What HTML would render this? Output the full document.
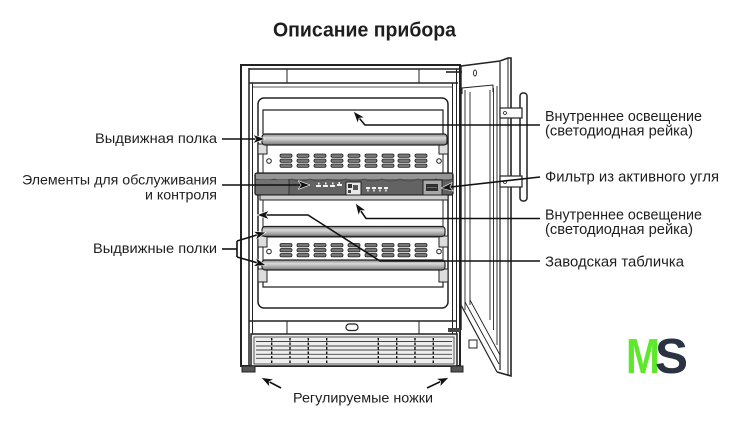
<!DOCTYPE html>
<html><head><meta charset="utf-8"><style>
html,body{margin:0;padding:0;background:#fff;}
svg{display:block;}
text{font-family:"Liberation Sans",Arial,sans-serif;fill:#1e1e1e;}
</style></head><body>
<svg width="740" height="427" viewBox="0 0 740 427" xmlns="http://www.w3.org/2000/svg">
<defs>
<linearGradient id="bar" x1="0" y1="0" x2="0" y2="1">
<stop offset="0" stop-color="#858585"/><stop offset="0.35" stop-color="#dadada"/><stop offset="0.7" stop-color="#a8a8a8"/><stop offset="1" stop-color="#747474"/>
</linearGradient>
<marker id="ah" markerUnits="userSpaceOnUse" markerWidth="12" markerHeight="9" refX="11" refY="4.5" orient="auto">
<path d="M0,0 L12,4.5 L0,9 L3,4.5 z" fill="#111" stroke="#fff" stroke-width="0.6"/>
</marker>
<g id="vents">
<g fill="#777" stroke="#222" stroke-width="0.8">
<rect x="0" y="0" width="12" height="3.4" rx="1.5"/><rect x="0" y="5" width="12" height="3.4" rx="1.5"/><rect x="0" y="10" width="12" height="3.4" rx="1.5"/>
</g>
</g>
</defs>

<!-- Title -->
<text x="273" y="36.5" font-size="20" font-weight="bold" textLength="183" lengthAdjust="spacingAndGlyphs">Описание прибора</text>

<!-- Cabinet -->
<g stroke="#222" fill="none">
<rect x="241" y="65" width="219" height="301" stroke-width="2"/>
<line x1="249" y1="68" x2="249" y2="366" stroke-width="1.5"/>
<line x1="252.5" y1="83" x2="252.5" y2="334" stroke-width="1"/>
<line x1="249" y1="69" x2="460" y2="69" stroke-width="1.5"/>
<line x1="249" y1="83" x2="458" y2="83" stroke-width="1.5"/>
<line x1="252" y1="87" x2="452" y2="87" stroke-width="0.8"/>
<line x1="287" y1="69" x2="287" y2="83" stroke-width="1"/>
<line x1="419" y1="69" x2="419" y2="83" stroke-width="1"/>
<line x1="452.5" y1="83" x2="452.5" y2="334" stroke-width="1"/>
<line x1="456.5" y1="69" x2="456.5" y2="366" stroke-width="1"/>
<!-- inner box -->
<rect x="258" y="98" width="190" height="210" rx="6" stroke-width="1.5"/>
<path d="M263,134 V110 H443 V134" stroke-width="1.2"/>
<!-- plinth -->
<line x1="249" y1="321" x2="457" y2="321" stroke-width="1.5"/>
<line x1="287" y1="321" x2="287" y2="334" stroke-width="1"/>
<line x1="419" y1="321" x2="419" y2="334" stroke-width="1"/>
<rect x="346" y="324" width="12" height="6.5" rx="3.2" stroke-width="1.2"/>
</g>
<!-- grille -->
<rect x="251" y="334" width="206" height="32" fill="#eeeeee" stroke="#222" stroke-width="1.5"/>
<rect x="254" y="337" width="200" height="27" fill="none" stroke="#333" stroke-width="0.8"/>
<g stroke="#444" stroke-width="0.9">
<line x1="256" y1="341.5" x2="452" y2="341.5"/><line x1="256" y1="346" x2="452" y2="346"/>
<line x1="256" y1="350" x2="452" y2="350"/><line x1="256" y1="354.3" x2="452" y2="354.3"/>
<line x1="256" y1="358.3" x2="452" y2="358.3"/>
</g>
<g stroke="#111" stroke-width="1.4" stroke-dasharray="2.5,2">
<line x1="271.7" y1="338" x2="271.7" y2="364"/><line x1="290" y1="338" x2="290" y2="364"/>
<line x1="308.3" y1="338" x2="308.3" y2="364"/><line x1="326.7" y1="338" x2="326.7" y2="364"/>
<line x1="378.3" y1="338" x2="378.3" y2="364"/><line x1="396.7" y1="338" x2="396.7" y2="364"/>
<line x1="415" y1="338" x2="415" y2="364"/><line x1="433.3" y1="338" x2="433.3" y2="364"/>
</g>
<!-- feet -->
<rect x="242" y="366" width="13" height="6" fill="#555" stroke="#222"/>
<rect x="451" y="366" width="12" height="6" fill="#555" stroke="#222"/>

<!-- Door -->
<g stroke="#222" fill="none">
<path d="M461,66 L500,61 L508,58 L511,58 L511,376 L497,372" stroke-width="1.6"/>
<line x1="461" y1="66" x2="461" y2="330" stroke-width="1.4"/>
<line x1="465" y1="90" x2="465" y2="310" stroke-width="0.9"/>
<line x1="470" y1="92" x2="470" y2="305" stroke-width="0.9"/>
<line x1="490" y1="90" x2="490" y2="320" stroke-width="0.9"/>
<line x1="493.5" y1="88" x2="493.5" y2="330" stroke-width="0.9"/>
<line x1="497" y1="86" x2="497" y2="345" stroke-width="0.9"/>
<line x1="500" y1="62" x2="500" y2="370" stroke-width="1.2"/>
<line x1="508" y1="58" x2="508" y2="376" stroke-width="1"/>
<path d="M462,94 V88 L493,85 V92" stroke-width="1"/>
<line x1="461" y1="305" x2="497" y2="372" stroke-width="1.2"/>
<line x1="465" y1="302" x2="499" y2="364" stroke-width="0.9"/>
<line x1="470" y1="300" x2="500" y2="355" stroke-width="0.9"/>
<!-- handle -->
<rect x="520" y="93" width="7" height="108" rx="3" fill="#fff" stroke-width="1.5"/>
<rect x="500" y="108" width="22" height="10" fill="#fff" stroke-width="1.2"/>
<rect x="500" y="176" width="22" height="11" fill="#fff" stroke-width="1.2"/>
<circle cx="505" cy="113" r="1.5" stroke-width="0.8"/>
<circle cx="505" cy="182" r="1.5" stroke-width="0.8"/>
<!-- hinges -->
<line x1="446" y1="72" x2="462" y2="72" stroke-width="1.6"/>
<ellipse cx="475" cy="73" rx="1.5" ry="3" stroke-width="0.9"/>
</g>
<rect x="448" y="328" width="12" height="4" fill="#444"/>
<rect x="469" y="340" width="8" height="8" fill="#fff" stroke="#222"/>

<!-- Shelf 1 -->
<rect x="263" y="145" width="180" height="28" fill="#fff" stroke="#222" stroke-width="1"/>
<rect x="258" y="144" width="9" height="10" fill="#ddd" stroke="#222"/>
<rect x="439" y="144" width="9" height="10" fill="#ddd" stroke="#222"/>
<rect x="262" y="134" width="185" height="11" rx="3" fill="url(#bar)" stroke="#222" stroke-width="1.2"/>
<g transform="translate(0,154)">
<use href="#vents" x="280"/><use href="#vents" x="297"/><use href="#vents" x="314"/><use href="#vents" x="331"/><use href="#vents" x="348"/><use href="#vents" x="365"/><use href="#vents" x="382"/><use href="#vents" x="398"/><use href="#vents" x="415"/>
</g>
<circle cx="269" cy="161" r="2.3" fill="#fff" stroke="#222"/>
<circle cx="439" cy="161" r="2.3" fill="#fff" stroke="#222"/>

<!-- Control panel -->
<rect x="255" y="173" width="198" height="22" rx="2" fill="#636363" stroke="#222" stroke-width="1.3"/>
<rect x="256" y="174" width="196" height="5" fill="#959595"/>
<path d="M256,179 q9,4 18,0 q9,4 18,0 q9,4 18,0 q9,4 18,0 q9,4 18,0 q9,4 18,0 q9,4 18,0 q9,4 18,0 q9,4 18,0 q9,4 18,0 q9,4 16,0" fill="none" stroke="#444" stroke-width="0.8"/>
<rect x="256" y="180" width="33" height="14" fill="#727272"/>
<line x1="289" y1="179" x2="289" y2="195" stroke="#333" stroke-width="1"/>
<g fill="#f2f2f2">
<rect x="316" y="185" width="5" height="2"/><rect x="323" y="185" width="5" height="2"/><rect x="330" y="185" width="5" height="2"/><rect x="337" y="184" width="5" height="2"/>
<rect x="318" y="182.5" width="1.5" height="2"/><rect x="325" y="182.5" width="1.5" height="2"/><rect x="332" y="182.5" width="1.5" height="2"/><rect x="338.5" y="182" width="1.5" height="2"/>
<rect x="366" y="187" width="4" height="2"/><rect x="372" y="187" width="4" height="2"/><rect x="378" y="187" width="4" height="2"/><rect x="384" y="187" width="4" height="2"/>
<rect x="367.2" y="189.5" width="1.5" height="2"/><rect x="373.2" y="189.5" width="1.5" height="2"/><rect x="379.2" y="189.5" width="1.5" height="2"/><rect x="385.2" y="189.5" width="1.5" height="2"/>
</g>
<rect x="346" y="182" width="15" height="13" fill="#e8e8e8" stroke="#222" stroke-width="1"/>
<rect x="348" y="184" width="4" height="4" fill="#333"/><rect x="353" y="185" width="5" height="5" fill="#555"/><rect x="348" y="190" width="3" height="3" fill="#444"/>
<rect x="423" y="180" width="19" height="15" fill="#a8a8a8" stroke="#222" stroke-width="1"/>
<rect x="426" y="184" width="12" height="7" fill="#2e2e2e"/>
<line x1="427" y1="187.5" x2="437" y2="187.5" stroke="#888" stroke-width="0.7"/>
<rect x="260" y="195" width="188" height="5" fill="#cfcfcf" stroke="#222" stroke-width="1"/>
<g stroke="#222" stroke-width="1">
<line x1="263" y1="200" x2="263" y2="227"/><line x1="443" y1="200" x2="443" y2="227"/>
</g>

<!-- Shelf 2 & 3 -->
<rect x="263" y="237" width="180" height="23" fill="#fff" stroke="#222" stroke-width="1"/>
<rect x="258" y="236" width="9" height="11" fill="#ddd" stroke="#222"/>
<rect x="439" y="236" width="9" height="11" fill="#ddd" stroke="#222"/>
<rect x="262" y="226.5" width="183" height="10" rx="3" fill="url(#bar)" stroke="#222" stroke-width="1.2"/>
<g transform="translate(0,243.5)">
<use href="#vents" x="280"/><use href="#vents" x="297"/><use href="#vents" x="314"/><use href="#vents" x="331"/><use href="#vents" x="348"/><use href="#vents" x="365"/><use href="#vents" x="382"/><use href="#vents" x="398"/><use href="#vents" x="415"/>
</g>
<circle cx="269" cy="251.5" r="2.3" fill="#fff" stroke="#222"/>
<circle cx="439" cy="251.5" r="2.3" fill="#fff" stroke="#222"/>
<path d="M263,270 V287 H443 V270" fill="none" stroke="#222" stroke-width="1.2"/>
<rect x="258" y="269" width="9" height="13" fill="#ddd" stroke="#222"/>
<rect x="439" y="269" width="9" height="13" fill="#ddd" stroke="#222"/>
<rect x="262" y="260" width="183" height="10" rx="3" fill="url(#bar)" stroke="#222" stroke-width="1.2"/>

<!-- Leader lines -->
<g stroke="#111" stroke-width="1.6" fill="none">
<line x1="222" y1="139" x2="264" y2="139" marker-end="url(#ah)"/>
<line x1="222" y1="185" x2="309" y2="185" marker-end="url(#ah)"/>
<line x1="222" y1="249" x2="237" y2="249"/>
<line x1="237" y1="241" x2="237" y2="257"/>
<line x1="237" y1="241" x2="265" y2="232.5" marker-end="url(#ah)"/>
<line x1="237" y1="257" x2="265" y2="265" marker-end="url(#ah)"/>
<polyline points="540,125 365,125 354,112" marker-end="url(#ah)"/>
<line x1="540" y1="177" x2="442" y2="188" marker-end="url(#ah)"/>
<polyline points="540,218.5 366,218.5 356,204" marker-end="url(#ah)"/>
<polyline points="540,261 380,261 308,215 258,215" marker-end="url(#ah)"/>
<line x1="281" y1="388" x2="262" y2="378" marker-end="url(#ah)"/>
<line x1="427" y1="388" x2="448" y2="378" marker-end="url(#ah)"/>
</g>

<!-- Labels -->
<g font-size="14">
<text x="95" y="143" textLength="122" lengthAdjust="spacingAndGlyphs">Выдвижная полка</text>
<text x="22" y="184.5" textLength="195" lengthAdjust="spacingAndGlyphs">Элементы для обслуживания</text>
<text x="145" y="199.5" textLength="72" lengthAdjust="spacingAndGlyphs">и контроля</text>
<text x="93" y="253" textLength="124" lengthAdjust="spacingAndGlyphs">Выдвижные полки</text>
<text x="293" y="402.5" textLength="140" lengthAdjust="spacingAndGlyphs">Регулируемые ножки</text>
</g>
<g font-size="14.5">
<text x="545" y="121" textLength="157" lengthAdjust="spacingAndGlyphs">Внутреннее освещение</text>
<text x="545" y="135.5" textLength="148" lengthAdjust="spacingAndGlyphs">(светодиодная рейка)</text>
<text x="545" y="181.5" textLength="174" lengthAdjust="spacingAndGlyphs">Фильтр из активного угля</text>
<text x="545" y="219.5" textLength="157" lengthAdjust="spacingAndGlyphs">Внутреннее освещение</text>
<text x="545" y="234" textLength="148" lengthAdjust="spacingAndGlyphs">(светодиодная рейка)</text>
<text x="545" y="266.5" textLength="139" lengthAdjust="spacingAndGlyphs">Заводская табличка</text>
</g>

<!-- Logo -->
<text x="626" y="373" font-size="49" font-weight="bold" style="fill:#5ee82c" textLength="34" lengthAdjust="spacingAndGlyphs">M</text>
<text x="655" y="373" font-size="49" font-weight="bold" style="fill:#2b3343" textLength="33" lengthAdjust="spacingAndGlyphs">S</text>
</svg>
</body></html>
